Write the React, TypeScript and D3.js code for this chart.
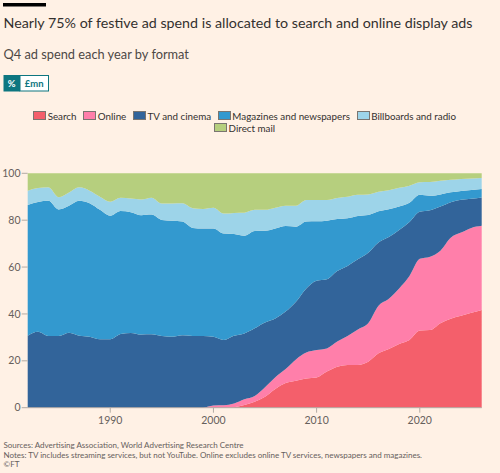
import React from 'react';
import * as d3 from 'd3';

const years = [1982,1983,1984,1985,1986,1987,1988,1989,1990,1991,1992,1993,1994,1995,1996,1997,1998,1999,2000,2001,2002,2003,2004,2005,2006,2007,2008,2009,2010,2011,2012,2013,2014,2015,2016,2017,2018,2019,2020,2021,2022,2023,2024,2025,2026];

const search = [0,0,0,0,0,0,0,0,0,0,0,0,0,0,0,0,0,0,0,0,0.2,1.1,2.5,4.7,8.0,10.5,11.5,12.5,12.9,15.4,17.5,18.2,18.2,19.6,23.2,25.0,27.2,28.9,32.9,33.1,36.0,38.0,39.2,40.5,41.7];
const online = [0,0,0,0,0,0,0,0,0,0,0,0,0,0,0,0,0,0,0.9,1.0,1.6,2.5,2.5,4.0,5.0,6.0,9.1,11.0,11.7,9.9,10.7,12.4,15.2,16.4,20.3,21.5,23.7,27.3,30.6,31.3,31.0,34.5,35.5,36.2,35.9];
const tvCinema = [30.7,32.4,30.6,30.6,32.0,30.7,30.3,29.2,29.2,31.4,31.9,31.2,31.3,30.6,30.3,30.9,30.6,30.6,29.4,27.9,28.9,28.1,28.9,27.7,25.1,24.5,24.6,27.4,29.6,29.5,30.1,29.9,29.9,30.1,27.0,26.3,24.9,23.0,20.1,19.8,18.8,15.2,14.0,12.4,12.1];
const magazines = [55.8,55.4,57.7,54.0,54.2,57.6,56.9,55.2,52.7,52.5,51.5,50.9,51.1,49.5,49.5,48.5,46.1,45.8,46.2,45.4,43.4,41.7,41.5,39.1,38.4,36.5,32.0,28.5,25.3,25.0,22.2,20.3,18.5,16.1,13.3,11.9,10.0,8.2,7.2,6.2,5.2,4.2,3.8,3.8,3.6];
const billboards = [6.1,5.9,5.7,5.2,5.6,5.7,5.4,5.6,6.0,5.7,5.8,6.7,7.2,7.0,7.3,7.8,8.4,8.4,8.8,8.5,9.0,9.8,9.0,8.9,8.8,8.7,9.0,9.2,9.1,8.8,9.0,9.2,9.0,8.8,8.3,8.1,8.0,7.3,5.4,5.9,5.8,5.3,5.1,4.9,4.7];
const directMail = [7.4,6.3,6.0,10.2,8.2,6.0,7.4,10.0,12.1,10.4,10.8,11.2,10.4,12.9,12.9,12.8,14.9,15.2,14.7,17.2,16.9,16.8,15.6,15.6,14.7,13.8,13.8,11.4,11.4,11.4,10.5,10.0,9.2,9.0,7.9,7.2,6.2,5.3,3.8,3.7,3.2,2.8,2.4,2.2,2.0];

const seriesNames = ['Search', 'Online', 'TV and cinema', 'Magazines and newspapers', 'Billboards and radio', 'Direct mail'];
const seriesValues = [search, online, tvCinema, magazines, billboards, directMail];
const seriesColors = ['#f45f6b', '#ff7faa', '#32649a', '#3399cf', '#9dd4e9', '#b6cf7e'];
const legendRowsNames = [
  ['Search', 'Online', 'TV and cinema', 'Magazines and newspapers', 'Billboards and radio'],
  ['Direct mail'],
];

const yTicks = [0, 20, 40, 60, 80, 100];
const xTicks = [1990, 2000, 2010, 2020];

const W = 500;
const H = 473;
const FONT = 'Lato, "Noto Sans", sans-serif';
const BG = '#fff1e5';

export default function App() {
  const margin = { left: 27.7, right: W - 481.7, top: 173.3, bottom: H - 407.7 };
  const x = d3.scaleLinear().domain([1982, 2026]).range([margin.left, W - margin.right]);
  const y = d3.scaleLinear().domain([0, 100]).range([H - margin.bottom, margin.top]);

  const rows = years.map((yr, i) => {
    const r: any = { year: yr };
    seriesNames.forEach((n, j) => { r[n] = seriesValues[j][i]; });
    return r;
  });
  const stacked = d3.stack<any>().keys(seriesNames)(rows);
  const area = d3.area<any>()
    .x((d) => x(d.data.year))
    .y0((d) => y(d[0]))
    .y1((d) => y(d[1]))
    .curve(d3.curveMonotoneX);

  const legCenter = 244.5;
  const footColor = '#66605c';

  return (
    <svg width={W} height={H} style={{ position: 'absolute', left: 0, top: 0, background: BG }} fontFamily={FONT}>
      <rect x={0} y={0} width={W} height={H} fill={BG} />
      <rect x={3} y={3} width={43} height={3.5} fill="#000" />
      <text x={3.5} y={28.3} fontSize={14.2} fill="#33302e" textLength={469} lengthAdjust="spacingAndGlyphs">Nearly 75% of festive ad spend is allocated to search and online display ads</text>
      <text x={3.5} y={58.5} fontSize={12.8} fill="#4d4845">Q4 ad spend each year by format</text>

      {/* toggle */}
      <rect x={3.5} y={75} width={16.5} height={16.5} fill="#0d7680" />
      <rect x={20} y={75.5} width={28.5} height={15.5} fill="#fff" stroke="#0d7680" strokeWidth={1} />
      <text x={11.75} y={86.5} fontSize={9.5} fontWeight={700} fill="#fff" textAnchor="middle">%</text>
      <text x={34.25} y={86.5} fontSize={9.5} fontWeight={700} fill="#0d7680" textAnchor="middle">£mn</text>

      {/* legend */}
      <foreignObject x={0} y={109.8} width={legCenter * 2} height={26}>
        <div style={{ fontFamily: FONT, fontSize: '9.8px', lineHeight: '12px', color: '#33302e', margin: 0, padding: 0 }}>
          {legendRowsNames.map((row, ri) => (
            <div key={ri} style={{ display: 'flex', justifyContent: 'center', alignItems: 'center', height: '12px', whiteSpace: 'nowrap' }}>
              {row.map((n, k) => {
                const i = seriesNames.indexOf(n);
                return (
                  <div key={n} style={{ display: 'flex', alignItems: 'center', marginLeft: k ? '6.6px' : 0 }}>
                    <span style={{ display: 'inline-block', width: '11.2px', height: '6.8px', background: seriesColors[i], border: '0.4px solid #7a7570', marginRight: '1.5px' }} />
                    <span>{n}</span>
                  </div>
                );
              })}
            </div>
          ))}
        </div>
      </foreignObject>

      {/* areas */}
      {stacked.map((s, i) => (
        <path key={s.key} d={area(s) || ''} fill={seriesColors[i]} />
      ))}

      {/* y axis */}
      {yTicks.map((t) => (
        <g key={t}>
          <line x1={margin.left - 6} x2={margin.left} y1={y(t)} y2={y(t)} stroke="#b3aba4" strokeWidth={1} />
          <text x={20.5} y={y(t)} dy="0.35em" fontSize={10.5} fill="#66605c" textAnchor="end">{t}</text>
        </g>
      ))}

      {/* x axis */}
      <line x1={margin.left} x2={W - margin.right} y1={y(0)} y2={y(0)} stroke="#b3aba4" strokeWidth={1} />
      {xTicks.map((t) => (
        <g key={t}>
          <line x1={x(t)} x2={x(t)} y1={y(0)} y2={y(0) + 5} stroke="#b3aba4" strokeWidth={1} />
          <text x={x(t)} y={424.3} fontSize={10.5} fill="#66605c" textAnchor="middle">{t}</text>
        </g>
      ))}

      {/* footer */}
      <text x={3.5} y={448.3} fontSize={8} fill={footColor}>Sources: Advertising Association, World Advertising Research Centre</text>
      <text x={3.5} y={457.6} fontSize={8} fill={footColor}>Notes: TV includes streaming services, but not YouTube. Online excludes online TV services, newspapers and magazines.</text>
      <text x={3.5} y={466.9} fontSize={8} fill={footColor}>©FT</text>
    </svg>
  );
}
